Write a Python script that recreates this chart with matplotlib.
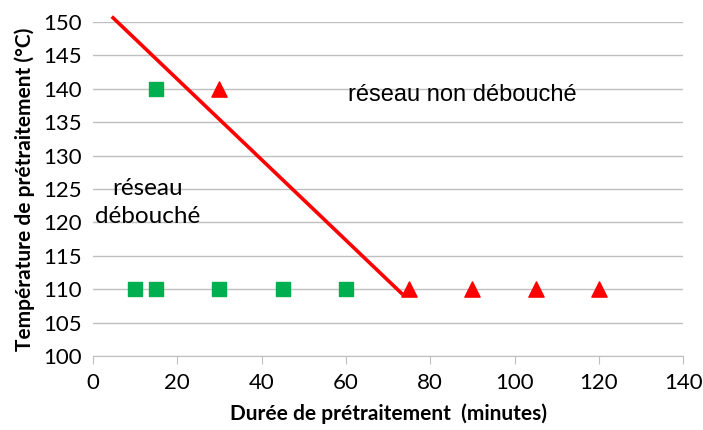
import matplotlib.pyplot as plt

# Données
carre_x = [10, 15, 30, 45, 60, 15]
carre_y = [110, 110, 110, 110, 110, 140]
tri_x = [30, 75, 90, 105, 120]
tri_y = [140, 110, 110, 110, 110]
limite_x = [4.5, 73.5]
limite_y = [150.8, 109.2]

plt.rcParams['font.family'] = ['Lato', 'DejaVu Sans']

fig, ax = plt.subplots(figsize=(7.03, 4.30), dpi=100)
fig.subplots_adjust(left=0.132, right=0.972, top=0.949, bottom=0.172)

ax.plot(limite_x, limite_y, color='#FF0000', lw=2.6, solid_capstyle='butt', zorder=3,
        clip_on=False)
ax.scatter(carre_x, carre_y, marker='s', s=110, color='#00B050', zorder=4)
ax.scatter(tri_x, tri_y, marker='^', s=120, color='#FF0000', zorder=4)

ax.set_xlim(0, 140)
ax.set_ylim(100, 150)
ax.set_xticks(range(0, 141, 20))
ax.set_yticks(range(100, 151, 5))
ax.grid(axis='y', color='#BFBFBF', lw=1)
ax.set_axisbelow(True)
for s in ['top', 'right', 'left']:
    ax.spines[s].set_visible(False)
ax.spines['bottom'].set_color('#BFBFBF')
ax.tick_params(axis='y', length=0, labelsize=16, pad=8)
ax.tick_params(axis='x', length=6, color='#BFBFBF', labelsize=16, pad=6)

ax.text(60.5, 139, 'réseau non débouché', fontsize=17, family='Liberation Sans',
        ha='left', va='center')
ax.text(13, 123, 'réseau\ndébouché', fontsize=17.5, ha='center', va='center',
        linespacing=1.45)

ax.set_xlabel('Durée de prétraitement  (minutes)', fontsize=15, fontweight='bold', labelpad=8)
ax.set_ylabel('Température de prétraitement (°C)', fontsize=15, fontweight='bold', labelpad=6)

fig.savefig('out.png')
